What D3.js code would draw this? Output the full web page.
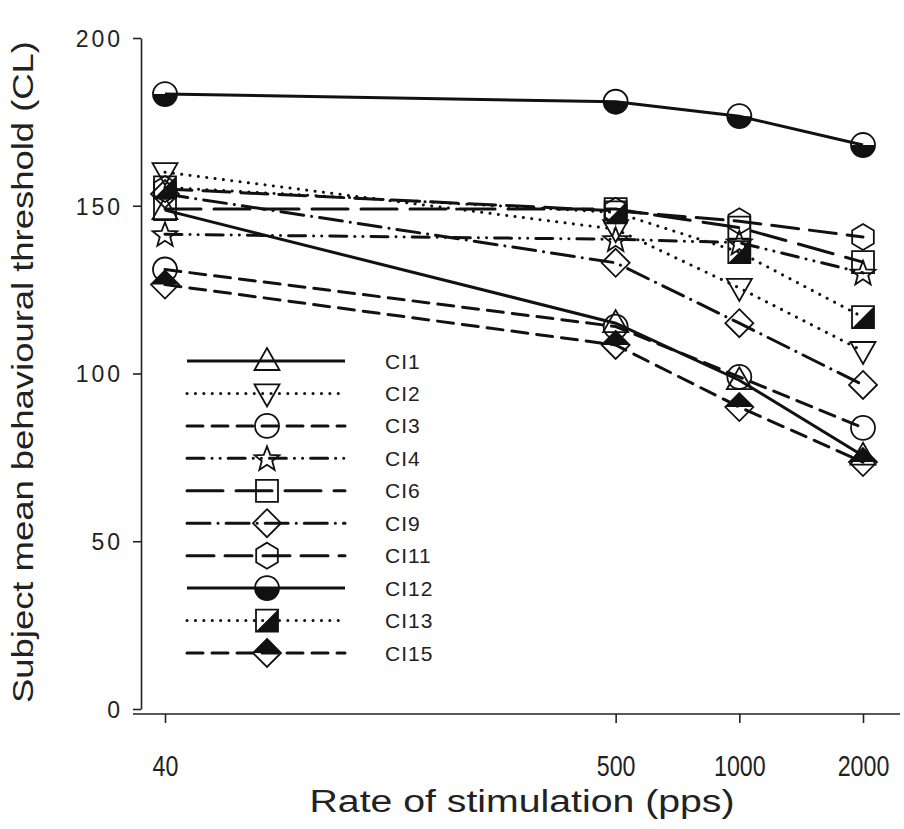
<!DOCTYPE html>
<html lang="en">
<head>
<meta charset="UTF-8">
<title>Threshold vs rate</title>
<script src="https://d3js.org/d3.v7.min.js"></script>
<style>
  body { margin: 0; background: #fff; }
  svg { display: block; }
  .axis path, .axis line { stroke: #222; stroke-width: 1.6px; }
  .ylab text { font-family: Arial, "Liberation Sans", sans-serif; font-size: 23px; fill: #222; letter-spacing: 3px; }
  .xlab text { font-family: Arial, "Liberation Sans", sans-serif; font-size: 29px; fill: #222; }
  .legend text { font-family: Arial, "Liberation Sans", sans-serif; font-size: 21px; fill: #222; letter-spacing: 1px; }
</style>
</head>
<body>
<svg width="904" height="829"></svg>
<script>
// data
const rates = [40, 500, 1000, 2000];
const yTicks = [0, 50, 100, 150, 200];
const subjects = ["CI1", "CI2", "CI3", "CI4", "CI6", "CI9", "CI11", "CI12", "CI13", "CI15"];
const ci1  = [148.7, 115.0, 98.0, 75.5];
const ci2  = [160.0, 143.0, 125.5, 106.7];
const ci3  = [131.0, 114.0, 99.0, 83.8];
const ci4  = [141.5, 140.0, 139.0, 130.0];
const ci6  = [149.0, 149.0, 143.5, 133.2];
const ci9  = [153.5, 133.0, 115.0, 96.6];
const ci11 = [155.0, 148.5, 145.4, 140.7];
const ci12 = [183.3, 181.0, 176.7, 168.1];
const ci13 = [155.5, 148.0, 136.2, 116.8];
const ci15 = [126.5, 108.5, 90.0, 73.6];
const values = [ci1, ci2, ci3, ci4, ci6, ci9, ci11, ci12, ci13, ci15];

// line style + marker per subject
const styles = {
  CI1:  { dash: null,                 marker: "triUp" },
  CI2:  { dash: "0.1 8.3",            marker: "triDown" },
  CI3:  { dash: "16 9",               marker: "circle" },
  CI4:  { dash: "17 8 0.1 8 0.1 8",   marker: "star" },
  CI6:  { dash: "36 13",              marker: "square" },
  CI9:  { dash: "23 8 0.1 8",         marker: "diamond" },
  CI11: { dash: "27 11",              marker: "hexagon" },
  CI12: { dash: null,                 marker: "halfCircle" },
  CI13: { dash: "0.1 8.3",            marker: "halfSquare" },
  CI15: { dash: "16 9",               marker: "halfDiamond" }
};

const svg = d3.select("svg");
const x = d3.scaleLog().domain([40, 2000]).range([165, 863]);
const y = d3.scaleLinear().domain([0, 200]).range([709, 38]);

// y axis
const yAxis = svg.append("g").attr("class", "axis ylab")
  .attr("transform", "translate(141,0)")
  .call(d3.axisLeft(y).tickValues(yTicks).tickSize(8).tickPadding(10).tickSizeOuter(0));
yAxis.selectAll("text").attr("dy", "0.36em");

// x axis (offset below)
const xAxis = svg.append("g").attr("class", "axis xlab")
  .attr("transform", "translate(0,714)")
  .call(d3.axisBottom(x).tickValues(rates).tickFormat(d3.format("d")).tickSize(9).tickPadding(32).tickSizeOuter(0));
xAxis.select(".domain").attr("d", "M133,0H900");
// condensed look of the tick labels
xAxis.selectAll(".tick text").attr("transform", "scale(0.8,1)");

// axis titles
svg.append("text")
  .attr("transform", "translate(33,372) rotate(-90)")
  .attr("text-anchor", "middle")
  .attr("textLength", 662).attr("lengthAdjust", "spacingAndGlyphs")
  .style("font-family", "Arial, 'Liberation Sans', sans-serif")
  .style("font-size", "30px").style("fill", "#222")
  .text("Subject mean behavioural threshold (CL)");

svg.append("text")
  .attr("x", 522).attr("y", 812)
  .attr("text-anchor", "middle")
  .attr("textLength", 425).attr("lengthAdjust", "spacingAndGlyphs")
  .style("font-family", "Arial, 'Liberation Sans', sans-serif")
  .style("font-size", "31px").style("fill", "#222")
  .text("Rate of stimulation (pps)");

// marker drawing
function drawMarker(g, type) {
  const sw = 1.8;
  const open = p => g.append("path").attr("d", p).attr("fill", "none").attr("stroke", "#111").attr("stroke-width", sw);
  const solid = p => g.append("path").attr("d", p).attr("fill", "#111").attr("stroke", "none");
  if (type === "triUp") open("M0,-13L12.5,9L-12.5,9Z");
  else if (type === "triDown") open("M0,13L12.5,-9L-12.5,-9Z");
  else if (type === "circle") g.append("circle").attr("r", 12).attr("fill", "none").attr("stroke", "#111").attr("stroke-width", sw);
  else if (type === "star") {
    const pts = d3.range(10).map(i => {
      const a = -Math.PI / 2 + i * Math.PI / 5, r = i % 2 ? 5.5 : 13;
      return [r * Math.cos(a), r * Math.sin(a) + 1];
    });
    open("M" + pts.join("L") + "Z");
  }
  else if (type === "square") open("M-11,-11H11V11H-11Z");
  else if (type === "diamond") open("M0,-14L14,0L0,14L-14,0Z");
  else if (type === "hexagon") {
    const pts = d3.range(6).map(i => {
      const a = -Math.PI / 2 + i * Math.PI / 3;
      return [12.5 * Math.cos(a), 13 * Math.sin(a)];
    });
    open("M" + pts.join("L") + "Z");
  }
  else if (type === "halfCircle") {
    solid("M-12,0A12,12 0 0,0 12,0Z");
    g.append("circle").attr("r", 12).attr("fill", "none").attr("stroke", "#111").attr("stroke-width", sw);
  }
  else if (type === "halfSquare") {
    solid("M-11,11L11,-11V11Z");
    open("M-11,-11H11V11H-11Z");
  }
  else if (type === "halfDiamond") {
    solid("M-14,0L0,-14L14,0Z");
    open("M0,-14L14,0L0,14L-14,0Z");
  }
}

const series = subjects.map((s, i) => ({ name: s, pts: rates.map((r, j) => [r, values[i][j]]) }));

const line = d3.line().x(d => x(d[0])).y(d => y(d[1]));

// lines
svg.append("g").selectAll("path").data(series).join("path")
  .attr("d", d => line(d.pts))
  .attr("fill", "none").attr("stroke", "#111").attr("stroke-width", 3)
  .attr("stroke-linecap", d => styles[d.name].dash ? "round" : "butt")
  .attr("stroke-dasharray", d => styles[d.name].dash);

// markers
series.forEach(s => {
  s.pts.forEach(p => {
    const g = svg.append("g").attr("transform", `translate(${x(p[0])},${y(p[1])})`);
    drawMarker(g, styles[s.name].marker);
  });
});

// legend
const ly = d3.scalePoint().domain(subjects).range([361, 653]);
const leg = svg.append("g").attr("class", "legend");
subjects.forEach(s => {
  const yy = ly(s);
  leg.append("line").attr("x1", 187).attr("x2", 345).attr("y1", yy).attr("y2", yy)
    .attr("stroke", "#111").attr("stroke-width", 3)
    .attr("stroke-linecap", styles[s].dash ? "round" : "butt")
    .attr("stroke-dasharray", styles[s].dash);
  const g = leg.append("g").attr("transform", `translate(267,${yy})`);
  drawMarker(g, styles[s].marker);
  leg.append("text").attr("x", 385).attr("y", yy).attr("dy", "0.36em").text(s);
});
</script>
</body>
</html>
